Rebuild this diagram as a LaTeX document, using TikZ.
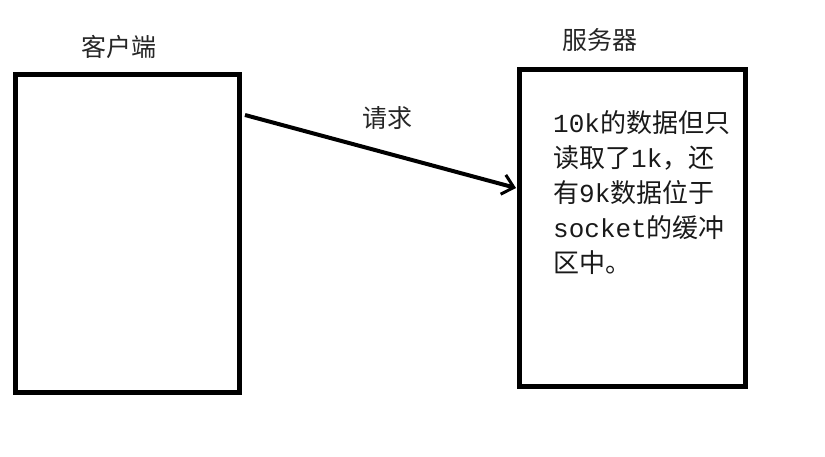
\documentclass[tikz,border=0pt]{standalone}
\usepackage{fontspec}
\setmainfont{Noto Sans CJK SC}
\newfontfamily\latmono{Liberation Mono}
\usetikzlibrary{arrows.meta}
\tikzset{
  box/.style={draw=black, line width=5pt},
  lbl/.style={font=\fontsize{25}{30}\selectfont, inner sep=0pt, text=black!85},
  body/.style={font=\fontsize{26}{35}\selectfont, inner sep=0pt, align=left, anchor=north west, text=black!90},
  conn/.style={line width=4pt, -{Straight Barb[length=11pt,width=20pt,line width=3pt]}}
}
\begin{document}
\begin{tikzpicture}[x=1pt,y=-1pt]
\useasboundingbox (0,0) rectangle (825,456);
\draw[box] (15.5,74.5) rectangle (239.5,392.5);
\draw[box] (519.5,69.5) rectangle (745.5,386.5);
\coordinate (cl) at (245,115);
\coordinate (sv) at (516,188);
\node[lbl] (client) at (119,47) {客户端};
\node[lbl] (server) at (600,40) {服务器};
\node[lbl] (req) at (387,118) {请求};
\node[body] (note) at (553,110) {{\latmono 10k}的数据但只\\读取了{\latmono 1k}，还\\有{\latmono 9k}数据位于\\{\latmono socket}的缓冲\\区中。};
\draw[conn] (cl) -- (sv);
\end{tikzpicture}
\end{document}
